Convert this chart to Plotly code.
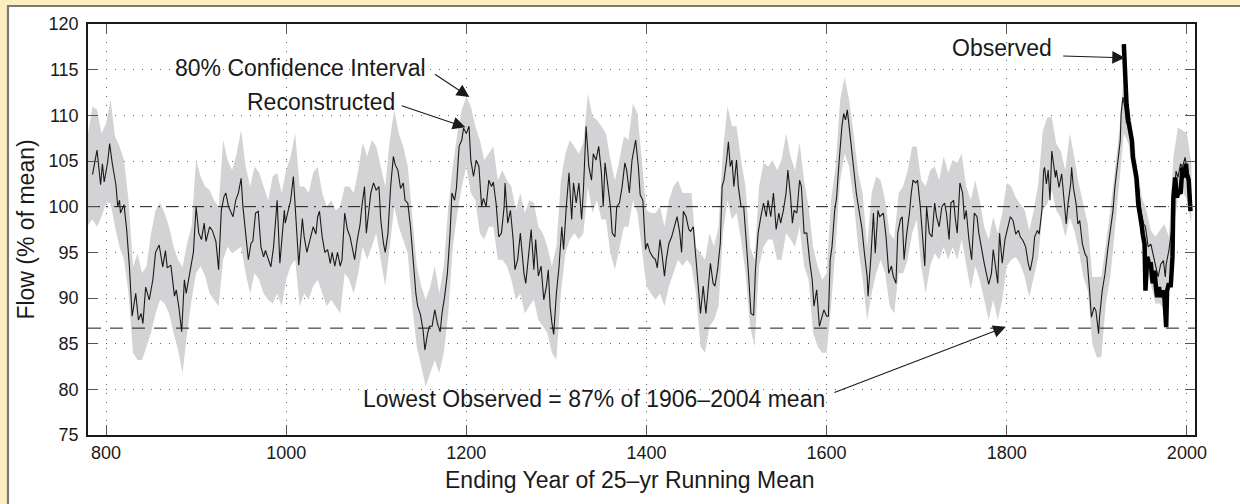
import plotly.graph_objects as go

# ---------------- data ----------------
band_start = 780
band_step = 5
# 80% confidence interval, every 5 years from 780 to 2005
ci_upper = [
    108, 111, 110.6, 108, 109.1, 111.7, 107.7, 106.6, 105.1, 100.7,      # 780-825
    93.4, 94.9, 92.7, 93.5, 97.1, 99.6, 100.4, 99.3, 97.8, 95.6,         # 830-875
    94.2, 93.4, 96, 97.8, 105.1, 103.3, 102.2, 101.8, 100.7, 100,        # 880-925
    107.3, 105.1, 104, 105.8, 108.4, 104.4, 102.2, 104.4, 103.7, 102.2,  # 930-975
    100.7, 103.3, 103.7, 101.5, 104, 105.5, 108, 102.2, 102.2, 101.5,    # 980-1025
    103.7, 104.4, 101.5, 100, 100.7, 99.6, 100, 102.2, 102.2, 101.5,     # 1030-1075
    104, 107, 105.5, 107.3, 106.6, 104.4, 102.2, 107.3, 110.6, 108,      # 1080-1125
    106.6, 104.4, 98.6, 93.5, 91.3, 89.8, 91.3, 93.5, 90.5, 93.5,        # 1130-1175
    100, 104.4, 108, 110.6, 112, 111, 108.8, 107.3, 105.1, 105.8,        # 1180-1225
    106.6, 102.9, 104, 102.9, 102.2, 99.6, 101.5, 99.3, 100.7, 100.4,    # 1230-1275
    97.8, 97.1, 95.6, 93.5, 95.6, 102.9, 105.8, 107.3, 106.6, 105.8,     # 1280-1325
    107, 112.4, 109.9, 109.5, 108.8, 108, 105.1, 102.9, 105.1, 107.7,    # 1330-1375
    107.3, 111.3, 110.2, 105.1, 99.6, 99.3, 99.3, 100, 97.8, 100.7,      # 1380-1425
    102.2, 102.9, 101.5, 101.5, 101.5, 95.6, 94.9, 94.2, 97.1, 95.6,     # 1430-1475
    97.8, 106.2, 111, 108.8, 108.8, 105.1, 102.2, 95.6, 94.2, 102.2,     # 1480-1525
    104.8, 104.4, 105.1, 104, 105.1, 108, 105.5, 104, 107, 102.9,        # 1530-1575
    100, 95.6, 93.5, 92, 92.7, 100.7, 104.4, 111.7, 114.2, 111.7,        # 1580-1625
    108, 103.7, 101.5, 95.6, 101.5, 103.3, 102.9, 100.7, 97.1, 96.4,     # 1630-1675
    101.5, 102.2, 104, 106.6, 106.6, 102.9, 102.2, 104, 104.4, 102.9,    # 1680-1725
    105.5, 103.7, 105.1, 104.8, 105.8, 102.2, 100.7, 102.9, 100.7, 97.8, # 1730-1775
    96.4, 98.9, 97.1, 99.3, 102.6, 102.2, 101, 100.3, 99.6, 97.4,        # 1780-1825
    99.6, 102.5, 108.3, 109.8, 109.8, 106.9, 106.1, 104, 108, 105.4,     # 1830-1875
    102.5, 100.3, 98.1, 92.3, 92.3, 92.3, 95.9, 99.6, 104, 108.3,        # 1880-1925
    114.5, 111.2, 108.3, 104.3, 101, 99.6, 97.4, 96.7, 97.4, 98.1,       # 1930-1975
    96.7, 105.4, 108.7, 108.3, 108, 104.7,                               # 1980-2005
]
ci_lower = [
    98, 98.6, 97.8, 98.9, 100.4, 100.4, 97.8, 95.6, 94.2, 90.5,          # 780-825
    84, 83.2, 83.2, 84.7, 86.2, 88.3, 89.8, 89.4, 88.3, 86.2,            # 830-875
    84.3, 81.8, 86.2, 89.8, 92.7, 93.5, 92.4, 90.5, 89.8, 89.1,          # 880-925
    94.2, 95.6, 94.9, 95.3, 95.6, 92.7, 90.5, 92.7, 92, 90.5,            # 930-975
    89.8, 89.4, 90.5, 89.1, 92, 93.5, 94.2, 89.1, 90.5, 89.8,            # 980-1025
    91.3, 92, 90.5, 89.1, 89.8, 89.1, 88.3, 92.7, 92, 90.5,              # 1030-1075
    92.7, 95.6, 94.2, 95.6, 97.1, 94.2, 91.3, 95.6, 100, 97.8,           # 1080-1125
    96.4, 94.9, 89.1, 84.7, 82.5, 80.3, 81.8, 83.2, 81.8, 84,            # 1130-1175
    88.3, 95.6, 99.3, 102.2, 104.4, 101.5, 100.7, 97.1, 96.4, 97.8,      # 1180-1225
    97.8, 94.2, 94.2, 93.5, 92, 89.8, 90.5, 88.3, 89.1, 89.8,            # 1230-1275
    87.6, 86.9, 86.2, 84, 83.2, 90.5, 94.9, 96.4, 97.1, 96.4,            # 1280-1325
    97.1, 102.2, 99.3, 100.7, 98.6, 98.6, 94.9, 93.1, 95.6, 97.8,        # 1330-1375
    97.8, 100.7, 99.3, 95.6, 91.3, 90.5, 89.8, 90.5, 89.1, 91.3,         # 1380-1425
    92.7, 94.2, 93.5, 94.2, 93.5, 90.5, 84.7, 84, 86.9, 87.6,            # 1430-1475
    89.1, 97.1, 100.7, 98.6, 99.3, 96.4, 92.7, 86.9, 84.7, 93.5,         # 1480-1525
    95.6, 96.4, 96.4, 94.2, 94.2, 97.1, 96.4, 95.6, 97.8, 93.5,          # 1530-1575
    92, 86.2, 84.7, 84, 84, 89.1, 95.6, 102.9, 105.8, 104.4,             # 1580-1625
    100.7, 95.6, 92, 87.6, 90.5, 92.7, 94.2, 92.7, 89.1, 88.3,           # 1630-1675
    92.7, 92.7, 94.2, 97.1, 98.6, 93.5, 90.5, 93.5, 94.9, 94.2,          # 1680-1725
    95.6, 94.2, 95.6, 94.2, 96.4, 93.5, 90.9, 93.5, 92, 89.8,            # 1730-1775
    87.6, 89.8, 87.6, 89.8, 93.5, 94.2, 94.5, 93.7, 92.3, 90.1,          # 1780-1825
    92.3, 94.5, 99.6, 100.3, 101.8, 99.6, 98.8, 96.7, 98.8, 97.4,        # 1830-1875
    95.2, 92.3, 90.8, 85, 83.5, 83.5, 89.4, 92.3, 97.4, 102.5,           # 1880-1925
    108, 106.9, 103.6, 100.3, 95.9, 93, 91.6, 89.4, 89.4, 88.6,          # 1930-1975
    92.3, 97.4, 101, 101.8, 100.7, 98.1,                                 # 1980-2005
]
band_years = [band_start + band_step * i for i in range(len(ci_upper))]

# reconstructed 25-yr running mean (ending year, % of mean)
recon_year = [
    785, 790, 794, 796, 798, 802, 804, 807, 811, 813, 815, 816, 820, 823, 826, 829,
    833, 836, 839, 841, 844, 848, 852, 855, 859, 863, 866, 868, 872, 876, 878, 881,
    884, 887, 889, 893, 897, 900, 903, 906, 909, 911, 915, 918, 922, 925, 928, 931,
    933, 936, 938, 941, 944, 947, 950, 952, 955, 958, 961, 963, 966, 969, 972, 975,
    977, 980, 983, 986, 988, 990, 993, 996, 998, 999, 1002, 1005, 1008, 1010, 1014, 1018,
    1020, 1023, 1027, 1030, 1033, 1035, 1037, 1040, 1043, 1046, 1049, 1051, 1054, 1057, 1060, 1062,
    1065, 1068, 1071, 1073, 1076, 1079, 1082, 1084, 1087, 1089, 1092, 1094, 1097, 1100, 1103, 1105,
    1108, 1110, 1113, 1116, 1119, 1121, 1124, 1127, 1130, 1132, 1135, 1138, 1141, 1144, 1146, 1149,
    1152, 1154, 1157, 1159, 1162, 1165, 1168, 1171, 1173, 1176, 1179, 1182, 1184, 1187, 1189, 1192,
    1195, 1197, 1200, 1203, 1205, 1208, 1211, 1214, 1217, 1219, 1222, 1225, 1228, 1230, 1233, 1236,
    1239, 1242, 1243, 1246, 1249, 1252, 1254, 1257, 1260, 1264, 1266, 1269, 1272, 1275, 1277, 1280,
    1283, 1286, 1289, 1291, 1293, 1295, 1297, 1300, 1303, 1306, 1308, 1311, 1314, 1317, 1319, 1322,
    1325, 1328, 1330, 1333, 1336, 1339, 1341, 1344, 1347, 1350, 1352, 1354, 1357, 1360, 1362, 1365,
    1367, 1370, 1373, 1376, 1378, 1381, 1384, 1388, 1391, 1393, 1396, 1399, 1401, 1404, 1407, 1410,
    1412, 1415, 1417, 1420, 1422, 1425, 1428, 1431, 1434, 1437, 1439, 1441, 1444, 1447, 1449, 1452,
    1455, 1458, 1460, 1463, 1466, 1468, 1471, 1474, 1476, 1479, 1482, 1484, 1486, 1489, 1491, 1493,
    1495, 1497, 1500, 1502, 1505, 1508, 1511, 1513, 1516, 1519, 1521, 1524, 1527, 1530, 1533, 1535,
    1538, 1541, 1544, 1547, 1549, 1552, 1555, 1557, 1560, 1562, 1564, 1567, 1570, 1572, 1575, 1578,
    1581, 1584, 1586, 1589, 1592, 1595, 1597, 1600, 1602, 1604, 1606, 1609, 1611, 1614, 1617, 1619,
    1621, 1623, 1625, 1628, 1631, 1633, 1636, 1639, 1642, 1645, 1646, 1649, 1652, 1654, 1657, 1659,
    1663, 1666, 1669, 1672, 1674, 1677, 1679, 1682, 1684, 1686, 1689, 1692, 1694, 1696, 1699, 1701,
    1704, 1706, 1709, 1711, 1714, 1717, 1720, 1722, 1725, 1728, 1731, 1733, 1736, 1738, 1741, 1743,
    1745, 1748, 1751, 1753, 1755, 1758, 1761, 1764, 1767, 1769, 1772, 1775, 1778, 1780, 1783, 1785,
    1788, 1790, 1792, 1795, 1798, 1801, 1804, 1807, 1810, 1813, 1815, 1818, 1821, 1824, 1826, 1829,
    1831, 1834, 1836, 1839, 1841, 1842, 1844, 1846, 1848, 1850, 1852, 1854, 1855, 1858, 1861, 1864,
    1866, 1868, 1871, 1872, 1874, 1877, 1879, 1881, 1884, 1887, 1889, 1892, 1894, 1897, 1899, 1902,
    1903, 1906, 1909, 1912, 1915, 1918, 1920, 1923, 1926, 1927, 1929, 1931, 1933, 1935, 1937, 1940,
    1943, 1946, 1949, 1952, 1954, 1957, 1960, 1963, 1966, 1968, 1971, 1974, 1976, 1977, 1980, 1983,
    1986, 1988, 1990, 1993, 1995, 1998, 2000, 2001, 2003,
]
recon_flow = [
    103.5, 106.2, 102.4, 104.7, 102.7, 105, 106.9, 104.7, 102.4, 100, 100.7, 99.3, 100.2, 97.4, 93.4, 88,
    90.5, 87.6, 88.3, 87.2, 91.2, 89.8, 92, 95, 95.8, 93.4, 95.2, 93.3, 93.6, 90.2, 90.9, 88.9,
    86.3, 92, 90.5, 92.7, 95, 100, 97.1, 96.4, 98.2, 96.2, 97.8, 97.4, 96.2, 93.1, 99.6, 101.1,
    101.5, 100, 99.6, 98.9, 100.7, 101.5, 103.1, 100, 97.1, 94.2, 96, 96.2, 99.3, 99.5, 95.6, 94.5,
    95.2, 94.2, 93.4, 95.6, 98.6, 100.7, 93.8, 97.8, 99.6, 98.2, 99.5, 100.7, 103.3, 99.6, 93.6, 98.7,
    96.7, 95, 96.7, 97.8, 97, 98.9, 99.5, 96.7, 95, 95.3, 93.8, 95, 93.5, 95, 93.5, 94.2,
    99.3, 97.5, 96.7, 95.6, 94.2, 96.4, 98, 100, 102.2, 97.1, 100, 101.5, 102.6, 101.8, 102.2, 98.6,
    96, 95, 97.1, 102.2, 105.5, 104.6, 104, 102, 102.6, 100.7, 100.4, 97.8, 94.2, 90.5, 89.1, 88.2,
    86.5, 84.3, 86.1, 86.9, 86.9, 88.7, 87.2, 86.3, 88.3, 90.2, 92.7, 97.1, 101.5, 100.7, 102, 106.6,
    107.3, 108.6, 108, 108.8, 105.1, 103.3, 105.1, 104.4, 100, 100.9, 100, 102.9, 102.2, 102.7, 100.4, 96.7,
    97.1, 100, 102.6, 98.2, 99.6, 96.4, 93.1, 94.2, 97.1, 92.7, 91.6, 94.9, 97.5, 93.1, 96.4, 92.4,
    93.5, 89.8, 91.3, 93.1, 89.1, 87.3, 86, 90.5, 93.5, 97.8, 95.3, 100, 103.7, 98.6, 102.6, 100.4,
    102.6, 98.6, 101.8, 108.8, 104.4, 102.9, 105.8, 105.1, 106.6, 103.7, 100, 104.8, 102.2, 100, 97.1, 96.7,
    100, 100.4, 102.2, 104.8, 104, 101.5, 105.1, 107.3, 104.4, 101.3, 100.7, 95.3, 96, 95, 94.5, 94.2,
    93.3, 96.4, 95, 92.4, 94.2, 96, 96.7, 97.8, 98.9, 97.1, 95, 99.5, 98.9, 97.5, 97.3, 97.8,
    94.5, 91.3, 88.3, 91.3, 88.3, 90.5, 93.8, 91.6, 91.3, 93.1, 96, 102.2, 102.9, 105.1, 107.1, 104.4,
    105.1, 102.2, 105.1, 102.2, 100, 100, 96.4, 93.1, 88.3, 88.1, 93.1, 97.1, 98.9, 100.4, 98.9, 100.7,
    98.9, 101.5, 97.5, 99.3, 98.2, 99.6, 101.5, 104, 101.1, 98.2, 99.6, 99.3, 102.9, 102.2, 97.1, 97.1,
    94.2, 92, 89.1, 90.9, 86.9, 88, 88.7, 88, 88, 94.2, 95.6, 99.6, 100.9, 105.1, 108.8, 110.2,
    109.5, 110.6, 108.8, 106.2, 103.7, 101.5, 99.6, 97.8, 94.9, 92.4, 90.2, 94.2, 99.3, 94.9, 99.6, 98.9,
    99.3, 96.7, 92.7, 93.5, 92.4, 91.6, 97.1, 98.6, 98.9, 94.2, 97.1, 99.3, 101.5, 102.9, 102.6, 102.9,
    100, 97.1, 93.5, 100, 97.1, 96.7, 100.4, 98.9, 97.8, 100, 100.4, 99.3, 96.4, 100.4, 100.7, 98.6,
    97.1, 102.6, 101.5, 98.6, 99.6, 96.4, 94.2, 99.3, 98.9, 97.1, 95.3, 93.8, 92.4, 91.5, 92.7, 95.3,
    93.1, 91.6, 97.1, 93.8, 96.4, 97.8, 98.9, 98.5, 97, 97.4, 96.7, 96.3, 95.6, 93.7, 93, 94.5,
    96.7, 97.4, 97, 99.6, 104, 104.3, 102.5, 104, 100.7, 106.1, 104.7, 103.2, 104, 102.1, 103.6, 100.7,
    98.1, 100.3, 102.5, 104.3, 102.1, 100.3, 98.1, 98.5, 95.9, 94.8, 94.5, 90.8, 87.9, 89, 88.6, 86.1,
    87.9, 90.8, 92.6, 95.2, 97.4, 99.6, 102.1, 104.7, 107.2, 110.2, 112, 110.9, 109.1, 109.8, 108.3, 106.1,
    104.7, 102.5, 99.6, 98.1, 97.8, 95.6, 95.9, 94.5, 93, 92.3, 93.7, 94.1, 92.3, 93.7, 95.2, 97.4,
    101.8, 103.9, 103.2, 104.7, 104.3, 105.4, 103.9, 103.2, 100.3,
]

# observed 25-yr running mean
obs_year = [
    1930, 1931, 1933, 1935, 1937, 1939, 1940, 1942, 1944, 1946, 1948, 1950, 1951, 1953, 1954, 1956,
    1958, 1960, 1962, 1964, 1966, 1967, 1969, 1971, 1973, 1975, 1977, 1978, 1980, 1982, 1984, 1985,
    1987, 1989, 1991, 1993, 1995, 1997, 1999, 2000, 2002, 2003, 2004,
]
obs_flow = [
    117.8, 114.5, 111.2, 109.4, 108.3, 107.2, 105.4, 104, 103.2, 100.3, 98.5, 97.8, 97, 95.9, 90.8, 94.5,
    93.7, 93.7, 91.6, 93, 90.8, 90.1, 91.2, 90.1, 90.8, 90.1, 86.8, 90.8, 91.6, 91.2, 94.5, 101,
    103.2, 101, 101.8, 101.4, 104.3, 103.2, 104.7, 103.6, 102.9, 100, 99.5,
]

mean_level = 100
lowest_observed = 86.7
x_range = [780, 2009]
y_range = [75, 120]
x_ticks = [800, 1000, 1200, 1400, 1600, 1800, 2000]
y_ticks = [75, 80, 85, 90, 95, 100, 105, 110, 115, 120]

FONT = "Liberation Sans, Arial, Helvetica, sans-serif"
INK = "#1a1a1a"

fig = go.Figure()

# confidence band
fig.add_trace(go.Scatter(x=band_years, y=ci_upper, mode="lines",
                         line=dict(width=0, color="#d3d3d5"), hoverinfo="skip",
                         showlegend=False))
fig.add_trace(go.Scatter(x=band_years, y=ci_lower, mode="lines",
                         line=dict(width=0, color="#d3d3d5"), fill="tonexty",
                         fillcolor="#d3d3d5", hoverinfo="skip", showlegend=False))

# reference lines
fig.add_trace(go.Scatter(x=x_range, y=[mean_level, mean_level], mode="lines",
                         line=dict(color=INK, width=1, dash="12px,6px,2px,6px"),
                         showlegend=False, hoverinfo="skip"))
fig.add_trace(go.Scatter(x=x_range, y=[lowest_observed, lowest_observed], mode="lines",
                         line=dict(color=INK, width=1, dash="13px,9px"),
                         showlegend=False, hoverinfo="skip"))

# reconstructed
fig.add_trace(go.Scatter(x=recon_year, y=recon_flow, mode="lines",
                         line=dict(color=INK, width=1.1), showlegend=False))
# observed
fig.add_trace(go.Scatter(x=obs_year, y=obs_flow, mode="lines",
                         line=dict(color="#000000", width=4.5), showlegend=False))

axis_common = dict(
    showline=True, linecolor=INK, linewidth=1.6, mirror="ticks",
    ticks="inside", ticklen=10, tickwidth=1, tickcolor="#555555",
    showgrid=True, gridcolor="#666666", gridwidth=1, griddash="1px,8px",
    zeroline=False,
    tickfont=dict(family=FONT, size=18, color=INK),
    title_font=dict(family=FONT, size=23, color=INK),
)

fig.update_xaxes(range=x_range, tickvals=x_ticks, ticklabelstandoff=1, **axis_common)
fig.update_yaxes(range=y_range, tickvals=y_ticks, title_text="Flow (% of mean)",
                 title_standoff=8, ticklabelstandoff=4, **axis_common)

# x-axis title (placed like the original, slightly left of the axis centre)
fig.add_annotation(xref="paper", yref="paper", x=0.4896, y=-0.1095,
                   text="Ending Year of 25\u2013yr Running Mean", showarrow=False,
                   xanchor="center", yanchor="middle",
                   font=dict(family=FONT, size=23, color=INK))

# background frame (yellow page with white panel)
fig.add_shape(type="rect", xref="paper", yref="paper",
              x0=-0.0723, x1=1.08, y0=-0.25, y1=1.0438, layer="below",
              fillcolor="white", line=dict(color="#7d7a70", width=2.2))

ann_font = dict(family=FONT, size=23, color=INK)
texts = [
    ("80% Confidence Interval", 1158, 115.2),
    ("Reconstructed", 1123.6, 111.5),
    ("Observed", 1852.4, 117.4),
    ("Lowest Observed = 87% of 1906\u20132004 mean", 1600.6, 78.9),
]
for t, xx, yy in texts:
    fig.add_annotation(x=xx, y=yy, text=t, showarrow=False, xanchor="right",
                       yanchor="middle", font=ann_font)

arrows = [
    # tip (x, y), tail (ax, ay)
    (1203.4, 112.0, 1163.5, 114.6),
    (1199.0, 108.7, 1126.7, 111.1),
    (1931.2, 116.3, 1861.0, 116.5),
    (1799.0, 86.85, 1607.0, 79.6),
]
for xx, yy, axx, ayy in arrows:
    fig.add_annotation(x=xx, y=yy, ax=axx, ay=ayy, axref="x", ayref="y", text="",
                       showarrow=True, arrowhead=2, arrowsize=2.3, arrowwidth=1.1,
                       arrowcolor=INK)

fig.update_layout(
    width=1240, height=504,
    margin=dict(l=88, r=45, t=24, b=69, autoexpand=False),
    paper_bgcolor="#fdeec2",
    plot_bgcolor="white",
    showlegend=False,
    font=dict(family=FONT, color=INK),
)

fig.write_html("out.html", config={"displayModeBar": False},
               post_script="document.body.style.margin='0';")
